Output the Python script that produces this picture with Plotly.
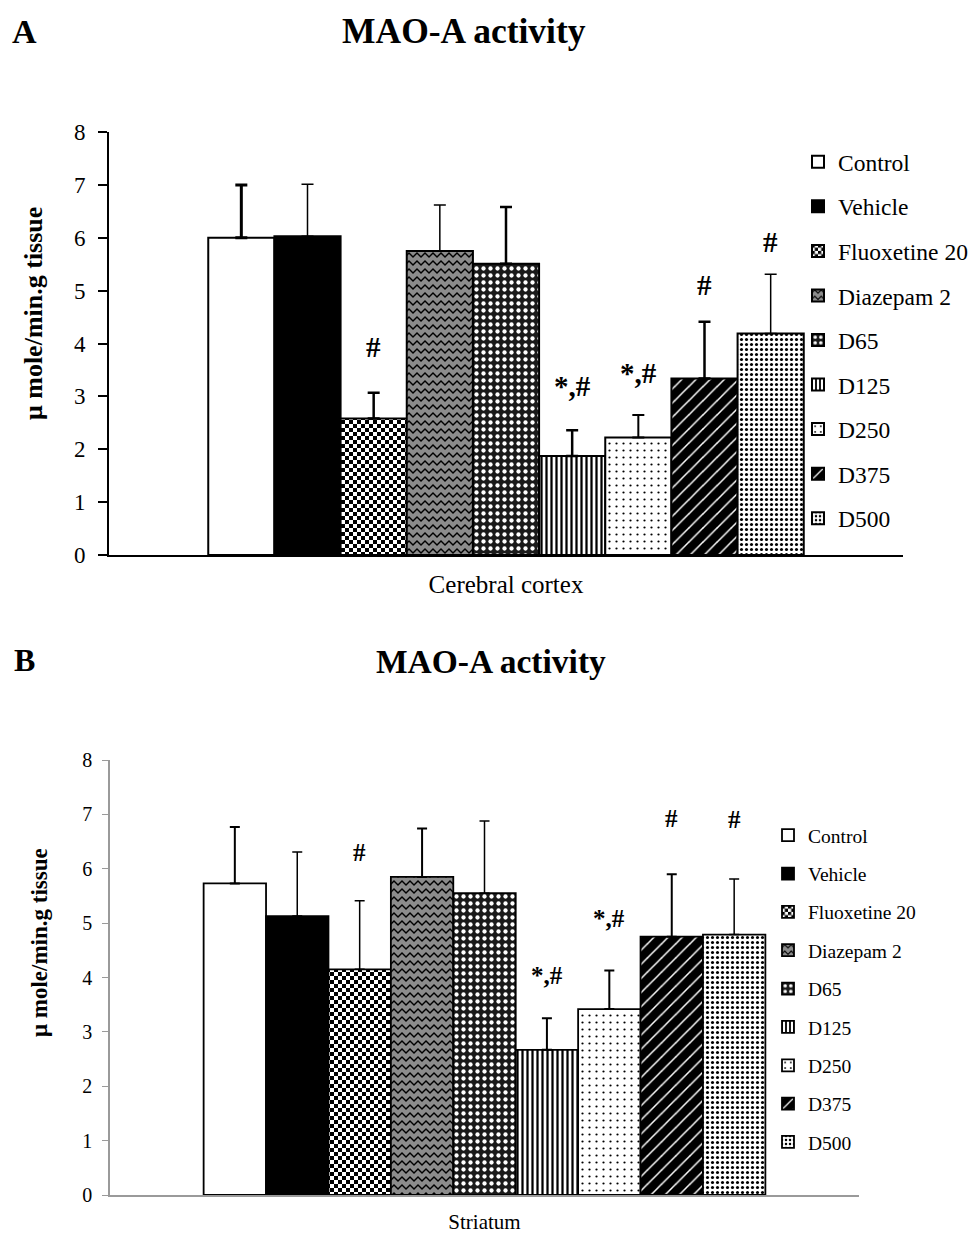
import plotly.graph_objects as go

# ---- data -------------------------------------------------------------
groups = ["Control", "Vehicle", "Fluoxetine 20", "Diazepam 2", "D65",
          "D125", "D250", "D375", "D500"]

cortex_mean = [6.0, 6.03, 2.58, 5.75, 5.51, 1.87, 2.22, 3.34, 4.19]
cortex_sd = [1.0, 0.98, 0.49, 0.87, 1.07, 0.49, 0.43, 1.07, 1.12]
cortex_marks = ["", "", "#", "", "", "*,#", "*,#", "#", "#"]

striatum_mean = [5.73, 5.13, 4.15, 5.85, 5.55, 2.67, 3.42, 4.75, 4.79]
striatum_sd = [1.04, 1.18, 1.26, 0.89, 1.33, 0.58, 0.71, 1.15, 1.02]
striatum_marks = ["", "", "#", "", "", "*,#", "*,#", "#", "#"]

regions = ["Cerebral cortex", "Striatum"]
y_ticks = [0, 1, 2, 3, 4, 5, 6, 7, 8]

# ---- styling ------------------------------------------------------------
SERIF = "Liberation Serif"
W, H = 974, 1235

# fill pattern for each group (black & white print style)
patterns = [
    dict(color="white", pattern=None),
    dict(color="black", pattern=None),
    dict(color="white", pattern=dict(path="M0,0H4V4H0Z M4,4H8V8H4Z", size=8,
                                     fgcolor="black", bgcolor="white", fillmode="replace", solidity=1)),
    dict(color="#7a7a7a", pattern=dict(path="M0,4 L4,0 L8,4 L8,6 L4,2 L0,6 Z", size=8,
                                       fgcolor="black", bgcolor="#8c8c8c", fillmode="replace", solidity=1)),
    dict(color="black", pattern=dict(shape=".", size=7, solidity=0.3,
                                     fgcolor="white", bgcolor="#1a1a1a", fillmode="replace")),
    dict(color="white", pattern=dict(shape="|", size=5, solidity=0.45,
                                     fgcolor="black", bgcolor="white", fillmode="replace")),
    dict(color="white", pattern=dict(shape=".", size=7, solidity=0.08,
                                     fgcolor="black", bgcolor="white", fillmode="replace")),
    dict(color="black", pattern=dict(shape="/", size=10, solidity=0.15,
                                     fgcolor="white", bgcolor="black", fillmode="replace")),
    dict(color="white", pattern=dict(shape=".", size=5, solidity=0.3,
                                     fgcolor="black", bgcolor="white", fillmode="replace")),
]

err_thick_a = [3, 1.5, 2.5, 1.5, 2.5, 2.5, 2, 2.5, 1.5]
err_thick_b = [2, 1.5, 1.5, 2, 1.5, 2, 2, 2, 1.5]

# pixel placement of the two panels
panel = {
    "a": dict(x0=109, x1=903, ytop=132, ybot=555),
    "b": dict(x0=110, x1=859, ytop=760, ybot=1195),
}


def dom_x(p):
    return [p["x0"] / W, p["x1"] / W]


def dom_y(p):
    return [1 - p["ybot"] / H, 1 - p["ytop"] / H]


BARGAP = 0.25
n = len(groups)
bar_w = (1 - BARGAP) / n
centers = [-(1 - BARGAP) / 2 + (i + 0.5) * bar_w for i in range(n)]

fig = go.Figure()


def add_panel(means, sds, thick, xa, ya, legend, line_w, cap):
    for i, g in enumerate(groups):
        st = patterns[i]
        marker = dict(color=st["color"], line=dict(color="black", width=line_w))
        if st["pattern"] is not None:
            marker["pattern"] = st["pattern"]
        fig.add_trace(go.Bar(
            x=[0], y=[means[i]], name=g, marker=marker,
            error_y=dict(type="data", array=[sds[i]], arrayminus=[0], symmetric=False,
                         color="black", thickness=thick[i], width=cap),
            xaxis=xa, yaxis=ya, legend=legend, legendgroup=legend + g,
            hoverinfo="skip",
        ))


add_panel(cortex_mean, cortex_sd, err_thick_a, "x", "y", "legend", 2, 6)
add_panel(striatum_mean, striatum_sd, err_thick_b, "x2", "y2", "legend2", 1.8, 5)

# significance marks above the error bars
mark_shift_a = [0, 0, 46, 0, 0, 44, 42, 37, 32]
mark_shift_b = [0, 0, 48, 0, 0, 43, 52, 56, 60]
for means, sds, marks, shifts, xr, yr, fs in [
    (cortex_mean, cortex_sd, cortex_marks, mark_shift_a, "x", "y", 29),
    (striatum_mean, striatum_sd, striatum_marks, mark_shift_b, "x2", "y2", 25),
]:
    for i, m in enumerate(marks):
        if not m:
            continue
        fig.add_annotation(x=centers[i], y=means[i] + sds[i], xref=xr, yref=yr,
                           text="<b>%s</b>" % m, showarrow=False,
                           xanchor="center", yanchor="middle",
                           yshift=shifts[i], font=dict(family=SERIF, size=fs, color="black"))

axis_common = dict(showgrid=False, zeroline=False, automargin=False)
fig.update_layout(
    template="none",
    width=W, height=H, margin=dict(l=0, r=0, t=0, b=0, autoexpand=False),
    paper_bgcolor="white", plot_bgcolor="white",
    barmode="group", bargap=BARGAP, bargroupgap=0, showlegend=True,
    font=dict(family=SERIF, color="black"),
    xaxis=dict(domain=dom_x(panel["a"]), anchor="y", range=[-0.5, 0.5],
               tickvals=[0], ticktext=[regions[0]], ticks="",
               showline=True, linecolor="black", linewidth=2,
               tickfont=dict(size=25), ticklabelstandoff=6, **axis_common),
    yaxis=dict(domain=dom_y(panel["a"]), anchor="x", range=[0, 8],
               tickvals=y_ticks, ticks="outside", ticklen=9, tickwidth=1.5,
               tickcolor="black", showline=True, linecolor="black", linewidth=2,
               tickfont=dict(size=23), ticklabelstandoff=8, **axis_common),
    xaxis2=dict(domain=dom_x(panel["b"]), anchor="y2", range=[-0.5, 0.5],
                tickvals=[0], ticktext=[regions[1]], ticks="",
                showline=True, linecolor="#9a9a9a", linewidth=1.5,
                tickfont=dict(size=21), ticklabelstandoff=7, **axis_common),
    yaxis2=dict(domain=dom_y(panel["b"]), anchor="x2", range=[0, 8],
                tickvals=y_ticks, ticks="outside", ticklen=6, tickwidth=1.2,
                tickcolor="#9a9a9a", showline=True, linecolor="#9a9a9a", linewidth=1.5,
                tickfont=dict(size=20), ticklabelstandoff=6, **axis_common),
    legend=dict(x=798 / W, y=1 - 140 / H, xanchor="left", yanchor="top",
                traceorder="grouped", tracegroupgap=11, font=dict(size=23.5),
                bgcolor="rgba(0,0,0,0)"),
    legend2=dict(x=768 / W, y=1 - 816 / H, xanchor="left", yanchor="top",
                 traceorder="grouped", tracegroupgap=10, font=dict(size=19.5),
                 bgcolor="rgba(0,0,0,0)"),
)

# panel letters, titles and y-axis titles
texts = [
    ("A", 24, 32, 34), ("MAO-A activity", 464, 31, 35.5),
    ("B", 24, 660, 32), ("MAO-A activity", 491, 661, 33.5),
]
for t, px, py, fs in texts:
    fig.add_annotation(x=px / W, y=1 - py / H, xref="paper", yref="paper",
                       xanchor="center", yanchor="middle",
                       text="<b>%s</b>" % t, showarrow=False,
                       font=dict(family=SERIF, size=fs, color="black"))

for px, py, fs in [(33, 314, 26), (39, 943, 23)]:
    fig.add_annotation(x=px / W, y=1 - py / H, xref="paper", yref="paper",
                       xanchor="center", yanchor="middle",
                       text="<b>μ mole/min.g tissue</b>", showarrow=False, textangle=-90,
                       font=dict(family=SERIF, size=fs, color="black"))

fig.write_html("out.html")
